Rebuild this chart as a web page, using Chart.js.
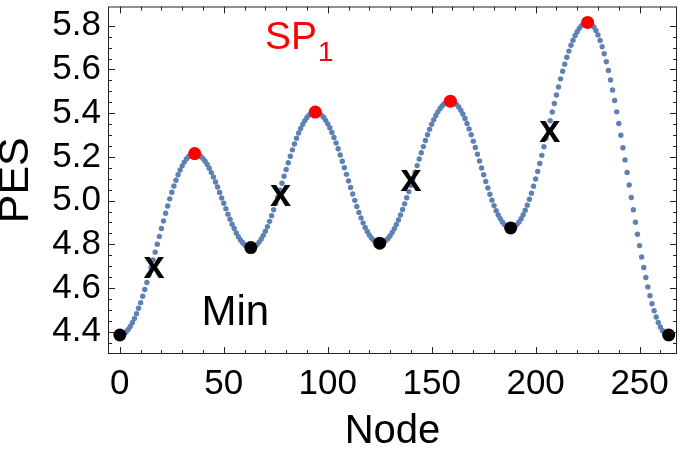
<!DOCTYPE html>
<html>
<head>
<meta charset="utf-8">
<script src="https://cdn.jsdelivr.net/npm/chart.js@4/dist/chart.umd.min.js"></script>
<style>
  html, body { margin: 0; padding: 0; background: #fff; }
  #wrap { width: 685px; height: 452px; }
</style>
</head>
<body>
<div id="wrap"><canvas id="pesChart" width="685" height="452"></canvas></div>
<script>
// energy along the path, one value per node (0..264)
const pes = [
    4.385, 4.387, 4.391, 4.399, 4.410, 4.424, 4.441, 4.460, 4.482, 4.507,
    4.533, 4.562, 4.593, 4.625, 4.658, 4.693, 4.728, 4.764, 4.800, 4.836,
    4.872, 4.907, 4.942, 4.975, 5.008, 5.038, 5.067, 5.093, 5.118, 5.140,
    5.159, 5.176, 5.190, 5.201, 5.209, 5.213, 5.215,
    5.214, 5.209, 5.202, 5.192, 5.180, 5.165, 5.148, 5.128, 5.108, 5.085,
    5.062, 5.037, 5.012, 4.988, 4.963, 4.938, 4.915, 4.892, 4.872, 4.852,
    4.835, 4.820, 4.808, 4.798, 4.791, 4.786, 4.785,
    4.787, 4.791, 4.799, 4.810, 4.824, 4.841, 4.860, 4.881, 4.905, 4.931,
    4.958, 4.987, 5.017, 5.048, 5.079, 5.111, 5.142, 5.173, 5.203, 5.232,
    5.259, 5.285, 5.309, 5.330, 5.349, 5.366, 5.380, 5.391, 5.399, 5.403, 5.405,
    5.403, 5.399, 5.391, 5.381, 5.367, 5.351, 5.333, 5.312, 5.289, 5.264,
    5.237, 5.209, 5.180, 5.150, 5.120, 5.090, 5.060, 5.030, 5.001, 4.973,
    4.946, 4.921, 4.898, 4.877, 4.859, 4.843, 4.829, 4.819, 4.811, 4.807, 4.805,
    4.806, 4.811, 4.817, 4.827, 4.839, 4.854, 4.871, 4.890, 4.911, 4.934,
    4.959, 4.985, 5.013, 5.041, 5.070, 5.100, 5.130, 5.160, 5.190, 5.219,
    5.247, 5.275, 5.301, 5.326, 5.349, 5.370, 5.389, 5.406, 5.421, 5.433,
    5.443, 5.449, 5.454, 5.455,
    5.453, 5.448, 5.440, 5.428, 5.413, 5.396, 5.376, 5.353, 5.328, 5.301,
    5.272, 5.243, 5.212, 5.181, 5.149, 5.118, 5.087, 5.058, 5.029, 5.002,
    4.977, 4.954, 4.934, 4.917, 4.902, 4.890, 4.882, 4.877, 4.875,
    4.877, 4.882, 4.890, 4.902, 4.917, 4.935, 4.956, 4.979, 5.006, 5.034,
    5.066, 5.099, 5.133, 5.170, 5.207, 5.246, 5.285, 5.325, 5.365, 5.405,
    5.444, 5.483, 5.520, 5.557, 5.592, 5.624, 5.656, 5.684, 5.711, 5.734,
    5.755, 5.773, 5.788, 5.800, 5.808, 5.813, 5.815,
    5.813, 5.806, 5.794, 5.778, 5.758, 5.733, 5.704, 5.672, 5.635, 5.595,
    5.552, 5.506, 5.458, 5.406, 5.353, 5.299, 5.242, 5.186, 5.129, 5.071,
    5.014, 4.958, 4.901, 4.846, 4.794, 4.742, 4.694, 4.648, 4.605, 4.565,
    4.528, 4.496, 4.467, 4.442, 4.422, 4.406, 4.394, 4.387, 4.385
];

// minima (black) and saddle points (red)
const minNodes = [0, 63, 125, 188, 264];
const spNodes = [36, 94, 159, 225];

// intermediate images marked with an "x" label
const xMarkNodes = [16.4, 77.3, 140.1, 206.8];
const xMarkValues = [4.676, 5.006, 5.074, 5.299];

const xTicks = [0, 50, 100, 150, 200, 250];
const yTicks = [4.4, 4.6, 4.8, 5.0, 5.2, 5.4, 5.6, 5.8];

const FONT = '"Liberation Sans", Arial, Helvetica, sans-serif';

const curvePoints = pes.map((v, i) => ({ x: i, y: v }));
const minPoints = minNodes.map(n => ({ x: n, y: pes[n] }));
const spPoints = spNodes.map(n => ({ x: n, y: pes[n] }));

// frame, inward ticks on all four sides, and the text labels
const framePlugin = {
    id: 'frame',
    afterDraw(chart) {
        const ctx = chart.ctx;
        const area = chart.chartArea;
        const xs = chart.scales.x;
        const ys = chart.scales.y;
        ctx.save();
        ctx.strokeStyle = '#222';
        ctx.lineWidth = 1;
        ctx.strokeRect(area.left + 0.5, area.top + 0.5, area.right - area.left - 1, area.bottom - area.top - 1);

        ctx.beginPath();
        for (let v = 0; v <= 260; v += 10) {
            const px = Math.round(xs.getPixelForValue(v)) + 0.5;
            const len = v % 50 === 0 ? 7 : 4;
            ctx.moveTo(px, area.bottom);
            ctx.lineTo(px, area.bottom - len);
            ctx.moveTo(px, area.top);
            ctx.lineTo(px, area.top + len);
        }
        for (let k = 0; k <= 30; k++) {
            const v = 4.3 + k * 0.05;
            const py = Math.round(ys.getPixelForValue(v)) + 0.5;
            if (py < area.top || py > area.bottom) continue;
            const len = k % 4 === 2 ? 7 : 4;
            ctx.moveTo(area.left, py);
            ctx.lineTo(area.left + len, py);
            ctx.moveTo(area.right, py);
            ctx.lineTo(area.right - len, py);
        }
        ctx.stroke();

        // x markers
        ctx.fillStyle = '#000';
        ctx.font = 'bold 38px ' + FONT;
        ctx.textAlign = 'center';
        ctx.textBaseline = 'middle';
        xMarkNodes.forEach((n, i) => {
            ctx.fillText('x', xs.getPixelForValue(n), ys.getPixelForValue(xMarkValues[i]) - 4);
        });

        // Min label
        ctx.font = '42px ' + FONT;
        ctx.textAlign = 'center';
        ctx.textBaseline = 'alphabetic';
        ctx.fillText('Min', xs.getPixelForValue(55.5), ys.getPixelForValue(4.43));

        // SP1 label
        ctx.fillStyle = '#ff0000';
        ctx.font = '39px ' + FONT;
        ctx.textAlign = 'left';
        const sx = xs.getPixelForValue(69.8);
        const sy = ys.getPixelForValue(5.695);
        ctx.fillText('SP', sx, sy);
        const w = ctx.measureText('SP').width;
        ctx.font = '28px ' + FONT;
        ctx.fillText('1', sx + w + 1, sy + 12);
        ctx.restore();
    }
};

new Chart(document.getElementById('pesChart'), {
    type: 'scatter',
    data: {
        datasets: [
            {
                label: 'SP',
                data: spPoints,
                backgroundColor: '#ff0000',
                borderWidth: 0,
                pointRadius: 6.5,
                order: 0
            },
            {
                label: 'Min',
                data: minPoints,
                backgroundColor: '#000000',
                borderWidth: 0,
                pointRadius: 6.5,
                order: 0
            },
            {
                label: 'PES',
                data: curvePoints,
                backgroundColor: '#5e81b5',
                borderWidth: 0,
                pointRadius: 2.7,
                order: 1
            }
        ]
    },
    options: {
        responsive: false,
        animation: false,
        devicePixelRatio: 1,
        layout: { padding: { top: 0, right: 8, left: 0, bottom: 0 } },
        plugins: {
            legend: { display: false },
            tooltip: { enabled: false }
        },
        scales: {
            x: {
                type: 'linear',
                min: -5.7,
                max: 268,
                afterFit: scale => {
                    scale.height = 98;
                    scale.paddingLeft = 0;
                    scale.paddingRight = 0;
                },
                afterBuildTicks: scale => { scale.ticks = xTicks.map(v => ({ value: v })); },
                grid: { display: false, drawTicks: false },
                border: { display: false },
                ticks: {
                    padding: 9,
                    color: '#000',
                    maxRotation: 0,
                    font: { family: FONT, size: 35 }
                },
                title: {
                    display: true,
                    text: 'Node',
                    color: '#000',
                    font: { family: FONT, size: 40, lineHeight: 1 },
                    padding: { top: 0, bottom: 0 }
                }
            },
            y: {
                type: 'linear',
                min: 4.298,
                max: 5.888,
                afterFit: scale => {
                    scale.width = 108;
                    scale.paddingTop = 0;
                    scale.paddingBottom = 0;
                },
                afterBuildTicks: scale => { scale.ticks = yTicks.map(v => ({ value: v })); },
                grid: { display: false, drawTicks: false },
                border: { display: false },
                ticks: {
                    padding: 7,
                    color: '#000',
                    font: { family: FONT, size: 35 },
                    callback: v => v.toFixed(1)
                },
                title: {
                    display: true,
                    text: 'PES',
                    color: '#000',
                    font: { family: FONT, size: 43, lineHeight: 0.75 },
                    padding: { top: 0, bottom: 0 }
                }
            }
        }
    },
    plugins: [framePlugin]
});
</script>
</body>
</html>
